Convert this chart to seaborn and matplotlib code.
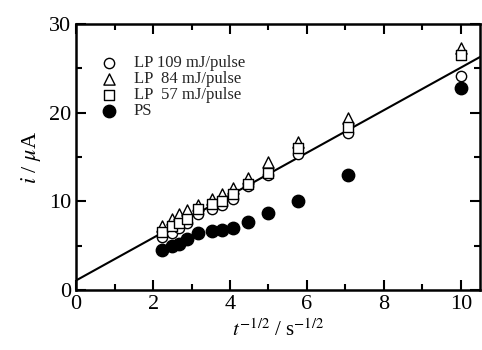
import seaborn as sns
from matplotlib import pyplot as plt
import numpy as np
import pandas as pd

# t^-1/2 values
x_vals = [2.24, 2.50, 2.67, 2.89, 3.16, 3.54, 3.78, 4.08, 4.47, 5.00, 5.77, 7.07, 10.0]
lp109 = [6.0, 6.4, 7.0, 7.6, 8.6, 9.2, 9.6, 10.3, 11.8, 13.0, 15.4, 17.7, 24.2]
lp84 = [7.2, 8.0, 8.6, 9.0, 9.6, 10.3, 10.9, 11.5, 12.6, 14.4, 16.7, 19.4, 27.3]
lp57 = [6.6, 7.2, 7.6, 8.0, 9.2, 9.7, 10.0, 10.8, 12.0, 13.2, 16.0, 18.4, 26.5]
ps = [4.5, 5.0, 5.2, 5.8, 6.5, 6.7, 6.8, 7.0, 7.7, 8.7, 10.1, 13.0, 22.8]
labels = ['LP 109 mJ/pulse', 'LP  84 mJ/pulse', 'LP  57 mJ/pulse', 'PS']

# fitted line
line_x = [0, 10.5]
line_y = [1.1, 1.1 + 2.4 * 10.5]

sns.set_style("ticks")
plt.rcParams['font.family'] = ['Liberation Serif', 'DejaVu Serif']
plt.rcParams['mathtext.fontset'] = 'stix'

fig = plt.figure(figsize=(4.82, 3.5), dpi=100)
ax = fig.add_axes([0.158, 0.171, 0.838, 0.76])

series = [lp109, lp84, lp57, ps]
markers = ['o', '^', 's', 'o']
fills = ['white', 'white', 'white', 'black']
sizes = [55, 65, 55, 80]
for vals, lab, m, fc, s in zip(series, labels, markers, fills, sizes):
    df = pd.DataFrame({'x': x_vals, 'y': vals})
    sns.scatterplot(data=df, x='x', y='y', marker=m, s=s, facecolor=fc,
                    edgecolor='black', linewidth=1.0, label=lab, ax=ax, zorder=3)

sns.lineplot(x=line_x, y=line_y, color='black', linewidth=1.5, ax=ax, zorder=2)

ax.set_xlim(0, 10.5)
ax.set_ylim(0, 30)
ax.set_xticks([0, 2, 4, 6, 8, 10])
ax.set_xticks([1, 3, 5, 7, 9], minor=True)
ax.set_yticks([0, 10, 20, 30])
ax.set_yticks([5, 15, 25], minor=True)
ax.tick_params(which='both', direction='in', top=True, right=True, labelsize=16, width=1.5,
               colors='black')
ax.tick_params(which='major', length=7)
ax.tick_params(which='minor', length=4)
for sp in ax.spines.values():
    sp.set_linewidth(1.8)
    sp.set_color('black')

ax.set_xlabel(r'$t^{-1/2}$ / s$^{-1/2}$', fontsize=15, color='black')
ax.set_ylabel(r'$i$ / $\mu$A', fontsize=16, color='black')

leg = ax.legend(loc='upper left', bbox_to_anchor=(0.0, 0.945), frameon=False, fontsize=12,
                handletextpad=0.45, labelspacing=0.0, borderaxespad=0.6)

fig.savefig('out.png', dpi=100)
